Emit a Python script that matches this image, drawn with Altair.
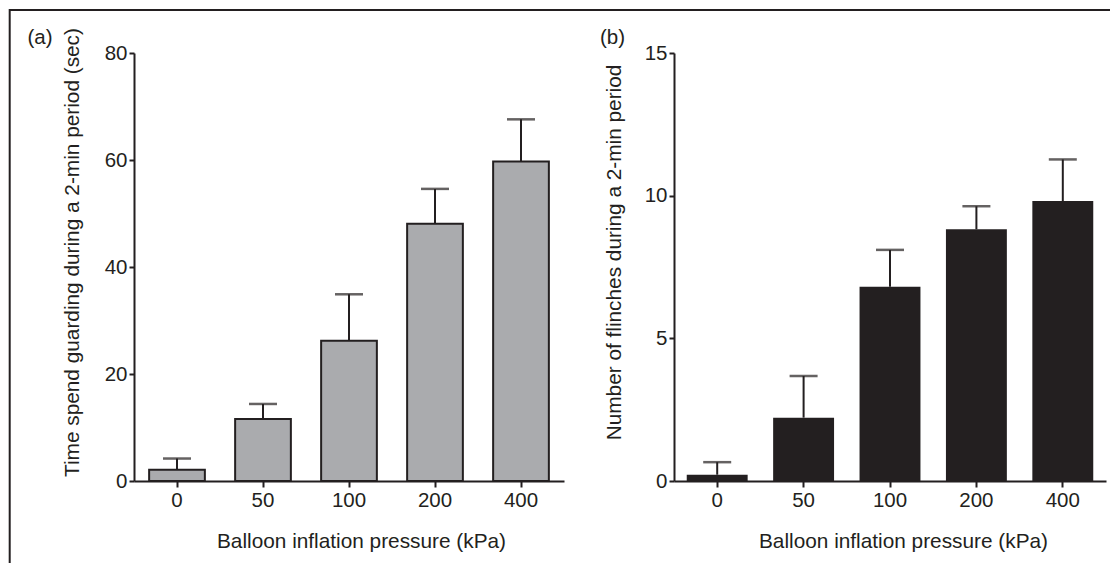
import altair as alt
import pandas as pd

pressures = ["0", "50", "100", "200", "400"]
guard_mean = [2.1, 11.6, 26.2, 48.1, 59.7]
guard_upper = [4.2, 14.4, 34.9, 54.6, 67.6]
flinch_mean = [0.22, 2.22, 6.81, 8.82, 9.81]
flinch_upper = [0.66, 3.68, 8.1, 9.63, 11.27]

xtitle = "Balloon inflation pressure (kPa)"
ytitle_a = "Time spend guarding during a 2-min period (sec)"
ytitle_b = "Number of flinches during a 2-min period"

INK = "#231f20"
FONT = "Liberation Sans"


def panel(mean, upper, ymax, ystep, ytitle, fill, stroke_w, pad_inner, width,
          xt_x, yt_x, yt_y, tag, tag_x, frame=False):
    df = pd.DataFrame({"p": pressures, "m": mean, "u": upper})
    x = alt.X("p:N", sort=pressures,
              scale=alt.Scale(paddingInner=pad_inner, paddingOuter=pad_inner / 2),
              axis=alt.Axis(title=xtitle, labelAngle=0, tickSize=6, labelPadding=3,
                            titleX=xt_x, titleY=66, titleBaseline="alphabetic"))
    yax = alt.Axis(title=ytitle, values=list(range(0, ymax + 1, ystep)), grid=False,
                   tickSize=5, labelPadding=2, titleX=yt_x, titleY=yt_y,
                   titleBaseline="alphabetic")
    ysc = alt.Scale(domain=[0, ymax], nice=False, zero=True)
    base = alt.Chart(df)
    bar_kw = dict(fill=fill)
    if stroke_w > 0:
        bar_kw.update(stroke=INK, strokeWidth=stroke_w)
    bars = base.mark_bar(**bar_kw).encode(x=x, y=alt.Y("m:Q", scale=ysc, axis=yax))
    err = base.mark_rule(color=INK, strokeWidth=2).encode(
        x=x, y=alt.Y("m:Q", scale=ysc, axis=yax), y2="u:Q")
    cap = base.mark_tick(color=INK, size=28, thickness=2.5).encode(
        x=x, y=alt.Y("u:Q", scale=ysc, axis=yax))
    lab = alt.Chart(pd.DataFrame({"t": [tag]})).mark_text(
        font=FONT, fontSize=20.5, color=INK, align="left", baseline="alphabetic"
    ).encode(x=alt.value(tag_x), y=alt.value(-9), text="t:N")
    layers = [err, bars, cap, lab]
    if frame:
        one = pd.DataFrame({"a": [0]})
        top = alt.Chart(one).mark_rule(color=INK, strokeWidth=2).encode(
            x=alt.value(-124.3), x2=alt.value(976), y=alt.value(-43))
        left = alt.Chart(one).mark_rule(color=INK, strokeWidth=2).encode(
            x=alt.value(-124.3), y=alt.value(-44), y2=alt.value(510))
        layers += [top, left]
    return alt.layer(*layers).properties(width=width, height=428)


pa = panel(guard_mean, guard_upper, 80, 20, ytitle_a, "#aaabae", 2, 0.352, 430,
           227, -56, 199, "(a)", -106.6, frame=True)
pb = panel(flinch_mean, flinch_upper, 15, 5, ytitle_b, INK, 0, 0.295, 432,
           229, -54, 199, "(b)", -74)

chart = alt.hconcat(pa, pb, spacing=110, bounds="flush", padding=0).configure(
    background="white"
).configure_axis(
    domainColor=INK, domainWidth=2, tickColor=INK, tickWidth=2,
    labelFont=FONT, labelFontSize=20.5, labelColor=INK,
    titleFont=FONT, titleFontSize=20.8, titleFontWeight="normal", titleColor=INK
).configure_view(stroke=None)

chart.save("out.html", embed_options={"renderer": "svg", "actions": False})
